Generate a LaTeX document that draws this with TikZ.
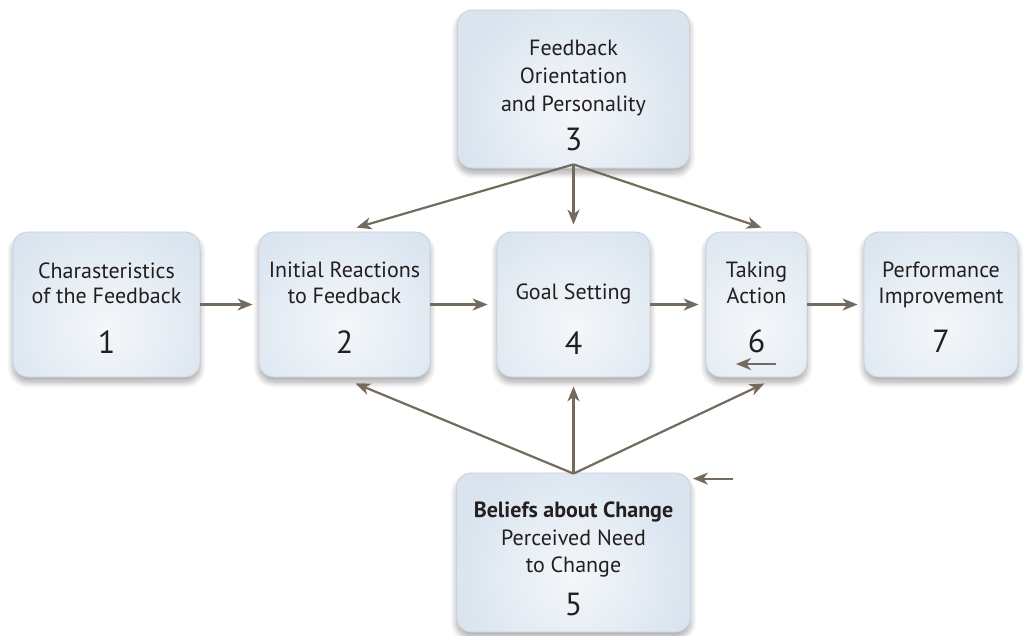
\documentclass[tikz,border=0pt]{standalone}
\usepackage{fontspec}
\setmainfont{PT Sans}
\usetikzlibrary{arrows.meta,calc,shadows.blur}

\definecolor{boxfill}{HTML}{D9E4EF}
\definecolor{boxglow}{HTML}{F4F7FA}
\definecolor{boxedge}{HTML}{C7D2DE}
\definecolor{arrowc}{HTML}{756A5E}
\definecolor{txtc}{HTML}{231F20}

\tikzset{
  stagebox/.style={
    rounded corners=15pt, draw=boxedge, line width=0.8pt, fill=boxfill,
    blur shadow={shadow xshift=0pt, shadow yshift=-5pt, shadow blur radius=6pt,
                 shadow blur steps=10, shadow opacity=35},
    path picture={
      \shade[inner color=boxglow, outer color=boxfill]
        ($(path picture bounding box.center)+(0,-22pt)$) circle (120pt);
    }
  },
  lbl/.style={anchor=base, inner sep=0pt, text=txtc, font=\fontsize{22}{26}\selectfont},
  lblb/.style={lbl, font=\fontsize{22}{26}\selectfont\bfseries},
  num/.style={anchor=base, inner sep=0pt, text=txtc, font=\fontsize{32}{36}\selectfont},
  arr/.style={draw=arrowc, line width=2.2pt,
              -{Stealth[length=15pt, width=12pt, inset=4.5pt]}}
}

\begin{document}
\begin{tikzpicture}[x=1pt, y=-1pt]
\useasboundingbox (0,0) rectangle (1024,635);

% stage boxes
\node[stagebox, minimum width=187pt, minimum height=145pt] (b1) at (106.5,304.5) {};
\node[stagebox, minimum width=171pt, minimum height=145pt] (b2) at (344.5,304.5) {};
\node[stagebox, minimum width=232pt, minimum height=158pt] (b3) at (573.5,89) {};
\node[stagebox, minimum width=153pt, minimum height=145pt] (b4) at (573.5,304.5) {};
\node[stagebox, minimum width=234pt, minimum height=159pt] (b5) at (573.5,552.5) {};
\node[stagebox, minimum width=101pt, minimum height=145pt] (b6) at (756.5,304.5) {};
\node[stagebox, minimum width=154pt, minimum height=145pt] (b7) at (941,304.5) {};

% labels
\node[lbl] (t1a) at (106.5,278) {Charasteristics};
\node[lbl] (t1b) at (106.5,303) {of the Feedback};
\node[num] (n1)  at (106.5,353) {1};

\node[lbl] (t2a) at (344.5,277) {Initial Reactions};
\node[lbl] (t2b) at (344.5,303) {to Feedback};
\node[num] (n2)  at (344.5,353) {2};

\node[lbl] (t3a) at (573.5,55) {Feedback};
\node[lbl] (t3b) at (573.5,83) {Orientation};
\node[lbl] (t3c) at (573.5,111) {and Personality};
\node[num] (n3)  at (573.5,150) {3};

\node[lbl] (t4a) at (573.5,299) {Goal Setting};
\node[num] (n4)  at (573.5,354) {4};

\node[lblb] (t5a) at (573.5,517) {Beliefs about Change};
\node[lbl]  (t5b) at (573.5,545) {Perceived Need};
\node[lbl]  (t5c) at (573.5,572) {to Change};
\node[num]  (n5)  at (573.5,615) {5};

\node[lbl] (t6a) at (756.5,277) {Taking};
\node[lbl] (t6b) at (756.5,303) {Action};
\node[num] (n6)  at (756.5,352) {6};

\node[lbl] (t7a) at (941,277) {Performance};
\node[lbl] (t7b) at (941,303) {Improvement};
\node[num] (n7)  at (941,352) {7};

% main chain
\draw[arr] (b1.east) -- ([xshift=-6pt]b2.west);
\draw[arr] (b2.east) -- ([xshift=-9pt]b4.west);
\draw[arr] (b4.east) -- ([xshift=-7pt]b6.west);
\draw[arr] (b6.east) -- ([xshift=-6pt]b7.west);

% influences from box 3
\coordinate (top) at ([yshift=4pt]b3.south);
\draw[arr] (top) -- ([xshift=12pt,yshift=4pt]b2.north);
\draw[arr] (top) -- ([yshift=7pt]b4.north);
\draw[arr] (top) -- ([xshift=5pt,yshift=4pt]b6.north);

% influences from box 5
\coordinate (bot) at ([yshift=-1pt]b5.north);
\draw[arr] (bot) -- ([xshift=11pt,yshift=-6pt]b2.south);
\draw[arr] (bot) -- ([yshift=-9pt]b4.south);
\draw[arr] (bot) -- ([xshift=8pt,yshift=-6pt]b6.south);

% short loose arrows
\coordinate (s6a) at ($(b6.center)+(19.5pt,-59.5pt)$);
\coordinate (s6b) at ($(b6.center)+(-20.5pt,-59.5pt)$);
\draw[arr] (s6a) -- (s6b);
\coordinate (s5a) at ($(b5.north east)+(42pt,-6pt)$);
\coordinate (s5b) at ($(b5.north east)+(2pt,-6pt)$);
\draw[arr] (s5a) -- (s5b);
\end{tikzpicture}
\end{document}
